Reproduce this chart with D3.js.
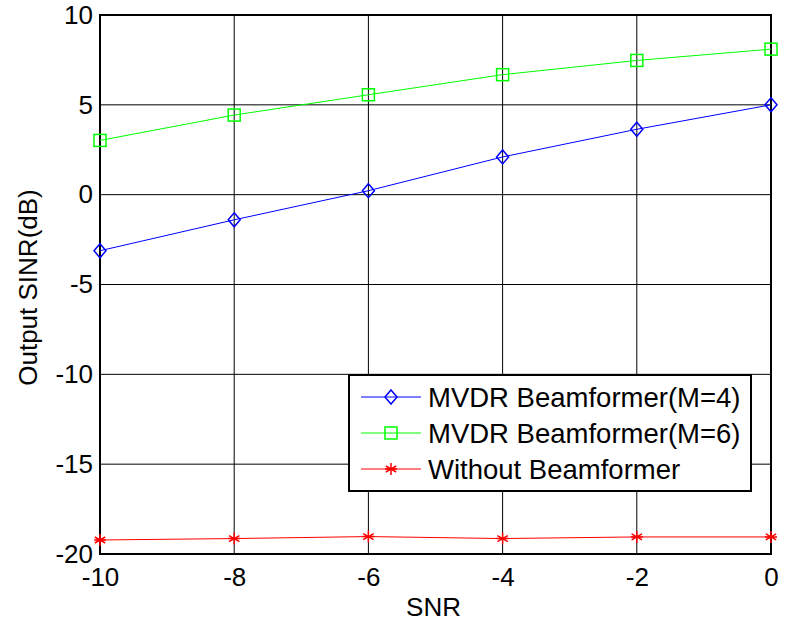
<!DOCTYPE html>
<html>
<head>
<meta charset="utf-8">
<script src="https://cdn.jsdelivr.net/npm/d3@7"></script>
<style>
  body { margin: 0; background: #fff; }
  svg text { font-family: "Liberation Sans", Arial, sans-serif; fill: #000; }
</style>
</head>
<body>
<div id="chart"></div>
<script>
const snr = [-10, -8, -6, -4, -2, 0];
const mvdrM4 = [-3.12, -1.4, 0.22, 2.1, 3.64, 5.0];
const mvdrM6 = [3.02, 4.43, 5.56, 6.68, 7.47, 8.1];
const withoutBf = [-19.22, -19.14, -19.03, -19.14, -19.05, -19.05];
const xTicks = [-10, -8, -6, -4, -2, 0];
const yTicks = [-20, -15, -10, -5, 0, 5, 10];

const series = [
  { name: "MVDR Beamformer(M=4)", values: mvdrM4, color: "#0000ff", marker: "diamond" },
  { name: "MVDR Beamformer(M=6)", values: mvdrM6, color: "#00ff00", marker: "square" },
  { name: "Without Beamformer", values: withoutBf, color: "#ff0000", marker: "star" }
];

const W = 786, H = 623;
const margin = { top: 15, right: 15, bottom: 69, left: 100 };
const width = W - margin.left - margin.right,
  height = H - margin.top - margin.bottom;
const FS = 26;

const svg = d3.select("#chart").append("svg")
  .attr("width", W)
  .attr("height", H);

const g = svg.append("g")
  .attr("transform", "translate(" + margin.left + "," + margin.top + ")");

const x = d3.scaleLinear().domain([-10, 0]).range([0, width]);
const y = d3.scaleLinear().domain([-20, 10]).range([height, 0]);

// grid
g.append("g")
  .selectAll("line")
  .data(xTicks)
  .join("line")
  .attr("x1", d => x(d)).attr("x2", d => x(d))
  .attr("y1", 0).attr("y2", height)
  .attr("stroke", "#000").attr("stroke-width", 1);

g.append("g")
  .selectAll("line")
  .data(yTicks)
  .join("line")
  .attr("x1", 0).attr("x2", width)
  .attr("y1", d => y(d)).attr("y2", d => y(d))
  .attr("stroke", "#000").attr("stroke-width", 1);

// axes
const xAxis = g.append("g")
  .attr("transform", "translate(0," + height + ")")
  .call(d3.axisBottom(x).tickValues(xTicks).tickSize(0).tickPadding(0)
    .tickFormat(d => d));
xAxis.select(".domain").remove();
xAxis.selectAll("text").attr("font-size", FS).attr("dy", null).attr("y", 32);

const yAxis = g.append("g")
  .call(d3.axisLeft(y).tickValues(yTicks).tickSize(0).tickPadding(7)
    .tickFormat(d => d));
yAxis.select(".domain").remove();
yAxis.selectAll("text").attr("font-size", FS);

// frame
g.append("rect")
  .attr("width", width).attr("height", height)
  .attr("fill", "none").attr("stroke", "#000").attr("stroke-width", 2);

function drawMarker(sel, type, color) {
  if (type === "diamond") {
    sel.append("path").attr("d", "M0,-7L6,0L0,7L-6,0Z")
      .attr("fill", "none").attr("stroke", color).attr("stroke-width", 1.5);
  } else if (type === "square") {
    sel.append("rect").attr("x", -6).attr("y", -6).attr("width", 12).attr("height", 12)
      .attr("fill", "none").attr("stroke", color).attr("stroke-width", 1.5);
  } else {
    sel.append("path").attr("d", "M0,-6V6M-5.2,-3L5.2,3M-5.2,3L5.2,-3M-6,0H6")
      .attr("fill", "none").attr("stroke", color).attr("stroke-width", 1.5);
  }
}

const line = d3.line().x((d, i) => x(snr[i])).y(d => y(d));

series.forEach(s => {
  g.append("path")
    .datum(s.values)
    .attr("d", line)
    .attr("fill", "none")
    .attr("stroke", s.color)
    .attr("stroke-width", 1);
  s.values.forEach((v, i) => {
    const m = g.append("g").attr("transform", "translate(" + x(snr[i]) + "," + y(v) + ")");
    drawMarker(m, s.marker, s.color);
  });
});

// legend
const legend = g.append("g").attr("transform", "translate(249,360)");
legend.append("rect")
  .attr("width", 402).attr("height", 116)
  .attr("fill", "#fff").attr("stroke", "#000").attr("stroke-width", 2);
series.forEach((s, i) => {
  const row = legend.append("g").attr("transform", "translate(0," + (22 + i * 36) + ")");
  row.append("line").attr("x1", 12).attr("x2", 72).attr("y1", 0).attr("y2", 0)
    .attr("stroke", s.color).attr("stroke-width", 1);
  const m = row.append("g").attr("transform", "translate(42,0)");
  drawMarker(m, s.marker, s.color);
  row.append("text").attr("x", 79).attr("dy", "0.35em")
    .attr("font-size", 27.5).text(s.name);
});

// labels
svg.append("text")
  .attr("x", margin.left + width / 2 - 2).attr("y", 616)
  .attr("text-anchor", "middle").attr("font-size", FS).text("SNR");

svg.append("text")
  .attr("transform", "translate(37," + (margin.top + height / 2 + 3) + ") rotate(-90)")
  .attr("text-anchor", "middle").attr("font-size", FS).text("Output SINR(dB)");
</script>
</body>
</html>
